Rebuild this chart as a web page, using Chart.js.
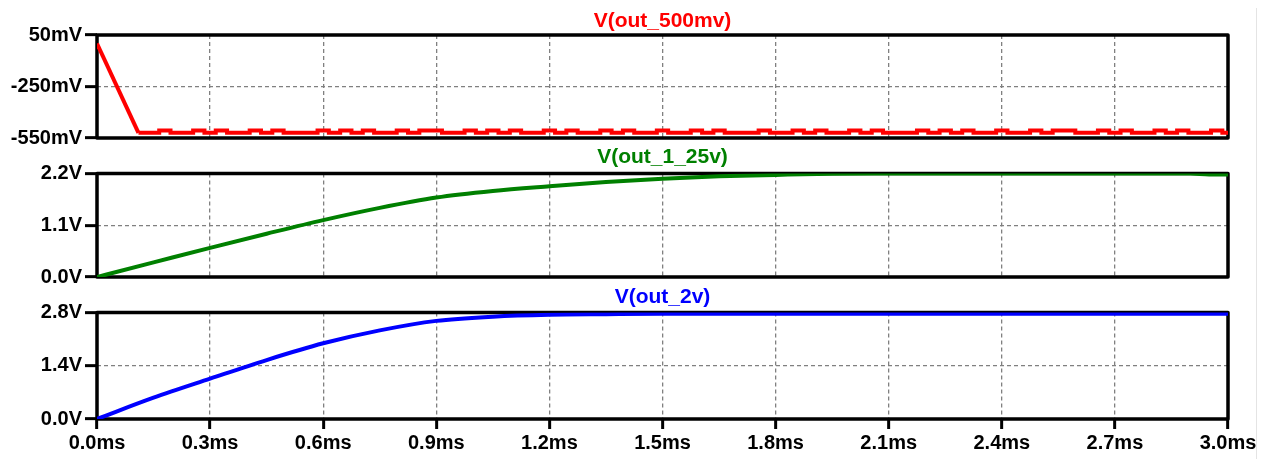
<!doctype html>
<html>
<head>
<title>Transient outputs</title>
<script src="https://cdn.jsdelivr.net/npm/chart.js@4.4.0/dist/chart.umd.min.js"></script>
<style>
body{margin:0;background:#fff;width:1265px;height:459px;overflow:hidden;position:relative;}
.panel{position:absolute;left:0;width:1265px;}
.ttl{position:absolute;left:97px;width:1131px;text-align:center;font:bold 21px Arial,"Liberation Sans",sans-serif;line-height:20px;z-index:2;}
#edge{position:absolute;left:1256px;top:8px;width:1px;height:451px;background:#e4e4e4;}
</style>
</head>
<body>
<div class="panel" style="top:0;height:160px"><canvas id="c1"></canvas></div>
<div class="panel" style="top:150px;height:150px"><canvas id="c2"></canvas></div>
<div class="panel" style="top:290px;height:169px"><canvas id="c3"></canvas></div>
<div class="ttl" style="top:10px;color:#ff0000">V(out_500mv)</div>
<div class="ttl" style="top:146px;color:#008000">V(out_1_25v)</div>
<div class="ttl" style="top:286px;color:#0000ff">V(out_2v)</div>
<div id="edge"></div>
<script>
// x axis (ms)
const xTicks = [0, 0.3, 0.6, 0.9, 1.2, 1.5, 1.8, 2.1, 2.4, 2.7, 3.0];

// V(out_500mv) in mV: start-up ramp, then the noisy settled level
const rampTime = [0, 0.11];
const rampVal = [0, -520];
const redTime = [0.11,
  0.12,0.15,0.18,0.21,0.24,0.27,0.30,0.33,0.36,0.39,
  0.42,0.45,0.48,0.51,0.54,0.57,0.60,0.63,0.66,0.69,
  0.72,0.75,0.78,0.81,0.84,0.87,0.90,0.93,0.96,0.99,
  1.02,1.05,1.08,1.11,1.14,1.17,1.20,1.23,1.26,1.29,
  1.32,1.35,1.38,1.41,1.44,1.47,1.50,1.53,1.56,1.59,
  1.62,1.65,1.68,1.71,1.74,1.77,1.80,1.83,1.86,1.89,
  1.92,1.95,1.98,2.01,2.04,2.07,2.10,2.13,2.16,2.19,
  2.22,2.25,2.28,2.31,2.34,2.37,2.40,2.43,2.46,2.49,
  2.52,2.55,2.58,2.61,2.64,2.67,2.70,2.73,2.76,2.79,
  2.82,2.85,2.88,2.91,2.94,2.97,3.00];
const redVal = [-520,
  -520,-520,-507,-520,-520,-507,-520,-507,-520,-520,
  -507,-520,-507,-520,-520,-520,-507,-520,-507,-520,
  -507,-520,-520,-507,-520,-507,-507,-520,-520,-507,
  -520,-507,-520,-507,-520,-520,-507,-520,-507,-520,
  -520,-507,-520,-507,-520,-520,-507,-520,-520,-507,
  -520,-507,-520,-520,-520,-507,-520,-520,-507,-520,
  -507,-520,-520,-507,-520,-507,-520,-520,-520,-507,
  -520,-507,-520,-507,-520,-520,-507,-520,-520,-507,
  -520,-507,-507,-520,-520,-507,-520,-507,-520,-520,
  -507,-520,-507,-520,-520,-507,-520];
const redTicks = [-550, -250, 50];

// V(out_1_25v) in V
const greenTime = [0, 0.15, 0.3, 0.45, 0.6, 0.75, 0.9, 1.05, 1.2, 1.35, 1.5, 1.65, 1.8, 1.95, 2.1, 2.4, 2.7, 2.9, 2.95, 3.0];
const greenVal  = [0, 0.31, 0.62, 0.92, 1.21, 1.47, 1.69, 1.83, 1.93, 2.02, 2.09, 2.14, 2.17, 2.195, 2.2, 2.2, 2.2, 2.2, 2.18, 2.18];
const greenTicks = [0, 1.1, 2.2];

// V(out_2v) in V
const blueTime = [0, 0.15, 0.3, 0.45, 0.6, 0.75, 0.9, 1.05, 1.2, 1.35, 1.5, 2.0, 2.5, 3.0];
const blueVal  = [0, 0.56, 1.06, 1.55, 1.99, 2.33, 2.58, 2.69, 2.74, 2.755, 2.765, 2.765, 2.765, 2.765];
const blueTicks = [0, 1.4, 2.8];

Chart.defaults.font.family = 'Arial, "Liberation Sans", sans-serif';

const frame = {
  id: 'frame',
  beforeDatasetsDraw(chart) {
    const a = chart.chartArea, c = chart.ctx;
    c.save();
    c.strokeStyle = '#000';
    c.lineWidth = 3.5;
    c.lineJoin = 'round';
    c.strokeRect(a.left, a.top, a.right - a.left, a.bottom - a.top);
    c.restore();
  }
};

function series(times, vals, color, extra) {
  return Object.assign({
    data: times.map((t, i) => ({x: t, y: vals[i]})),
    borderColor: color,
    borderWidth: 4,
    pointRadius: 0,
    fill: false
  }, extra);
}

function panel(id, datasets, yTicks, yMin, yMax, fmt, padTop, padBottom, showX) {
  return new Chart(document.getElementById(id), {
    type: 'line',
    data: {datasets: datasets},
    options: {
      responsive: true,
      maintainAspectRatio: false,
      animation: false,
      layout: {padding: {top: padTop, bottom: padBottom, left: 0, right: 37}},
      plugins: {legend: {display: false}, tooltip: {enabled: false}},
      scales: {
        x: {
          type: 'linear', min: 0, max: 3,
          afterBuildTicks: s => { s.ticks = xTicks.map(v => ({value: v})); },
          afterFit: s => { s.height = showX ? 40 : 0; },
          grid: {color: '#808080', lineWidth: 1.3, drawTicks: showX, tickLength: 10, tickWidth: 3, tickColor: '#000'},
          border: {display: false, dash: [4, 3]},
          ticks: {display: showX, color: '#000', font: {size: 20, weight: 'bold'}, padding: 2,
                  maxRotation: 0, autoSkip: false, callback: v => v.toFixed(1) + 'ms'}
        },
        y: {
          min: yMin, max: yMax,
          afterBuildTicks: s => { s.ticks = yTicks.map(v => ({value: v})); },
          afterFit: s => { s.width = 97; },
          grid: {color: '#808080', lineWidth: 1.3, tickLength: 12, tickWidth: 3, tickColor: '#000'},
          border: {display: false, dash: [4, 3]},
          ticks: {color: '#000', font: {size: 20, weight: 'bold'}, padding: 3, callback: fmt}
        }
      }
    },
    plugins: [frame]
  });
}

panel('c1', [
  series(rampTime, rampVal, '#ff0000', {tension: 0}),
  series(redTime, redVal, '#ff0000', {stepped: 'middle'})
], redTicks, -550, 50, v => v + 'mV', 35, 22, false);
panel('c2', [series(greenTime, greenVal, '#008000', {cubicInterpolationMode: 'monotone'})],
  greenTicks, 0, 2.2, v => v.toFixed(1) + 'V', 23.5, 23, false);
panel('c3', [series(blueTime, blueVal, '#0000ff', {cubicInterpolationMode: 'monotone'})],
  blueTicks, 0, 2.8, v => v.toFixed(1) + 'V', 22.5, 0, true);
</script>
</body>
</html>
